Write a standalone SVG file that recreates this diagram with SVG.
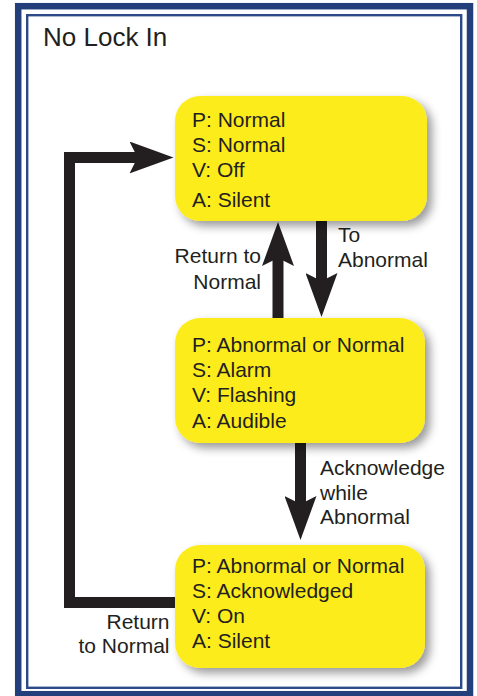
<svg xmlns="http://www.w3.org/2000/svg" width="477" height="696" viewBox="0 0 477 696">
<style>
text{font-family:"Liberation Sans",Arial,sans-serif;fill:#231f20;font-size:21px}
.title{font-size:26px}
.box{fill:#fdec1c;filter:url(#sh)}
.conn{fill:none;stroke:#231f20;stroke-width:11;stroke-linejoin:miter}
.r{text-anchor:end}
</style>
<defs>
<filter id="sh" x="-20%" y="-20%" width="150%" height="150%">
<feDropShadow dx="5" dy="5" stdDeviation="5" flood-color="#000" flood-opacity="0.4"/>
</filter>
<marker id="ah" viewBox="0 0 44 32" markerWidth="44" markerHeight="32" markerUnits="userSpaceOnUse" refX="10" refY="16" orient="auto">
<path d="M0,0 L44,16 L0,32 L8,16 Z" fill="#231f20"/>
</marker>
</defs>
<rect x="0" y="0" width="477" height="696" fill="#fff"/>
<g id="frame">
<rect x="18.2" y="6.2" width="451.8" height="688" fill="none" stroke="#233f7b" stroke-width="6.5"/>
<rect x="27.2" y="15.2" width="434" height="672.6" fill="none" stroke="#2b4a87" stroke-width="2.4"/>
<text class="title" x="43" y="46">No Lock In</text>
</g>
<g id="connectors">
<path class="conn" d="M176,602.5 H69.5 V157.5 H139.5" marker-end="url(#ah)"/>
<path class="conn" d="M278,318 V256" marker-end="url(#ah)"/>
<path class="conn" d="M321.5,221 V283" marker-end="url(#ah)"/>
<path class="conn" d="M300.5,442 V506" marker-end="url(#ah)"/>
<text class="r" x="261" y="263">Return to</text>
<text class="r" x="261" y="289">Normal</text>
<text x="338" y="242">To</text>
<text x="338" y="267">Abnormal</text>
<text x="320" y="475">Acknowledge</text>
<text x="320" y="500">while</text>
<text x="320" y="524">Abnormal</text>
<text class="r" x="169.5" y="629">Return</text>
<text class="r" x="169.5" y="653">to Normal</text>
</g>
<g id="node-normal">
<rect class="box" x="175" y="96" width="252" height="125" rx="25"/>
<text x="192" y="127">P: Normal</text>
<text x="192" y="152">S: Normal</text>
<text x="192" y="177">V: Off</text>
<text x="192" y="207">A: Silent</text>
</g>
<g id="node-alarm">
<rect class="box" x="175" y="318" width="250" height="125" rx="25"/>
<text x="192" y="352">P: Abnormal or Normal</text>
<text x="192" y="377">S: Alarm</text>
<text x="192" y="402">V: Flashing</text>
<text x="192" y="428">A: Audible</text>
</g>
<g id="node-acknowledged">
<rect class="box" x="175" y="545" width="250" height="123" rx="25"/>
<text x="192" y="573">P: Abnormal or Normal</text>
<text x="192" y="598">S: Acknowledged</text>
<text x="192" y="623">V: On</text>
<text x="192" y="648">A: Silent</text>
</g>
</svg>
